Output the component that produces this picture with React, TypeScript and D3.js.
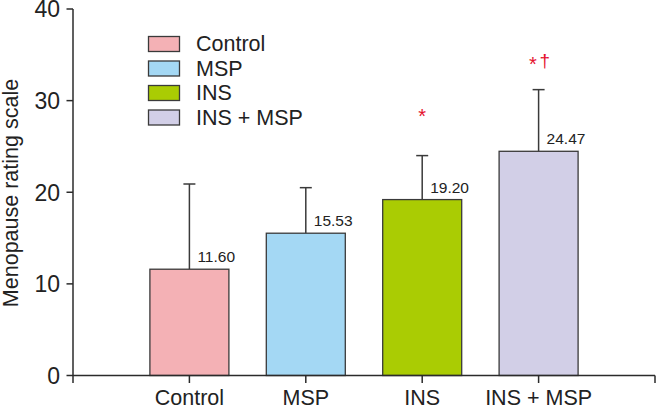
import React from "react";
import * as d3 from "d3";

const categories = ["Control", "MSP", "INS", "INS + MSP"];
const means = [11.6, 15.53, 19.2, 24.47];
const errorTops = [20.9, 20.5, 24.0, 31.2];
const valueLabels = ["11.60", "15.53", "19.20", "24.47"];
const colors = ["#F4B1B5", "#A4D8F4", "#AACC03", "#D2CFE7"];
const starMarks = [false, false, true, true];
const daggerMarks = [false, false, false, true];
const yTicks = [0, 10, 20, 30, 40];

const W = 656;
const H = 409;
const FONT = "'Liberation Sans', Arial, Helvetica, sans-serif";

export default function App() {
  const x = d3.scalePoint<string>().domain(categories).range([73, 655]).padding(1);
  const y = d3.scaleLinear().domain([0, 40]).range([375.5, 9]);
  const barW = 79;
  const axisColor = "#2b2b2b";
  const stroke = "#3a3a3a";
  const red = "#E5122E";

  return (
    <svg
      width={W}
      height={H}
      style={{ position: "absolute", left: 0, top: 0, background: "#fff" }}
      fontFamily={FONT}
    >
      {/* Bars */}
      {categories.map((c, i) => {
        const cx = x(c)!;
        const both = starMarks[i] && daggerMarks[i];
        const markBase = y(errorTops[i]) - (both ? 19 : 33);
        return (
          <g key={c}>
            <line x1={cx} x2={cx} y1={y(means[i])} y2={y(errorTops[i])} stroke={stroke} strokeWidth={1.5} />
            <line x1={cx - 6} x2={cx + 6} y1={y(errorTops[i])} y2={y(errorTops[i])} stroke={stroke} strokeWidth={1.5} />
            <rect
              x={cx - barW / 2}
              y={y(means[i])}
              width={barW}
              height={y(0) - y(means[i])}
              fill={colors[i]}
              stroke={stroke}
              strokeWidth={1.3}
            />
            <text x={cx + 8} y={y(means[i]) - 7} fontSize={15.5} fill="#222">
              {valueLabels[i]}
            </text>
            {starMarks[i] && (
              <text x={both ? cx - 5.7 : cx} y={markBase} fontSize={20} fill={red} textAnchor="middle">
                *
              </text>
            )}
            {daggerMarks[i] && (
              <text x={cx + 6.3} y={markBase - 4} fontSize={19} fill={red} textAnchor="middle">
                {"\u2020"}
              </text>
            )}
          </g>
        );
      })}

      {/* Y axis */}
      <line x1={73} x2={73} y1={y(40)} y2={383} stroke={axisColor} strokeWidth={1.5} />
      {yTicks.map((t) => (
        <g key={t}>
          <line x1={66.5} x2={73} y1={y(t)} y2={y(t)} stroke={axisColor} strokeWidth={1.5} />
          <text x={60} y={y(t)} dy="0.36em" textAnchor="end" fontSize={23} fill="#222">
            {t}
          </text>
        </g>
      ))}
      <text
        transform={`translate(18, 193) rotate(-90)`}
        textAnchor="middle"
        fontSize={21.5}
        fill="#222"
      >
        Menopause rating scale
      </text>

      {/* X axis */}
      <line x1={73} x2={655} y1={y(0)} y2={y(0)} stroke={axisColor} strokeWidth={1.5} />
      <line x1={655} x2={655} y1={y(0)} y2={383} stroke={axisColor} strokeWidth={1.5} />
      {categories.map((c) => (
        <g key={c}>
          <line x1={x(c)!} x2={x(c)!} y1={y(0)} y2={383} stroke={axisColor} strokeWidth={1.5} />
          <text x={x(c)!} y={405} textAnchor="middle" fontSize={21.5} fill="#222">
            {c}
          </text>
        </g>
      ))}

      {/* Legend */}
      {categories.map((c, i) => (
        <g key={c} transform={`translate(148.5, ${36.5 + i * 24.5})`}>
          <rect width={31} height={15} fill={colors[i]} stroke={stroke} strokeWidth={1.3} />
          <text x={47.5} y={14.5} fontSize={21.5} fill="#222">
            {c}
          </text>
        </g>
      ))}
    </svg>
  );
}
